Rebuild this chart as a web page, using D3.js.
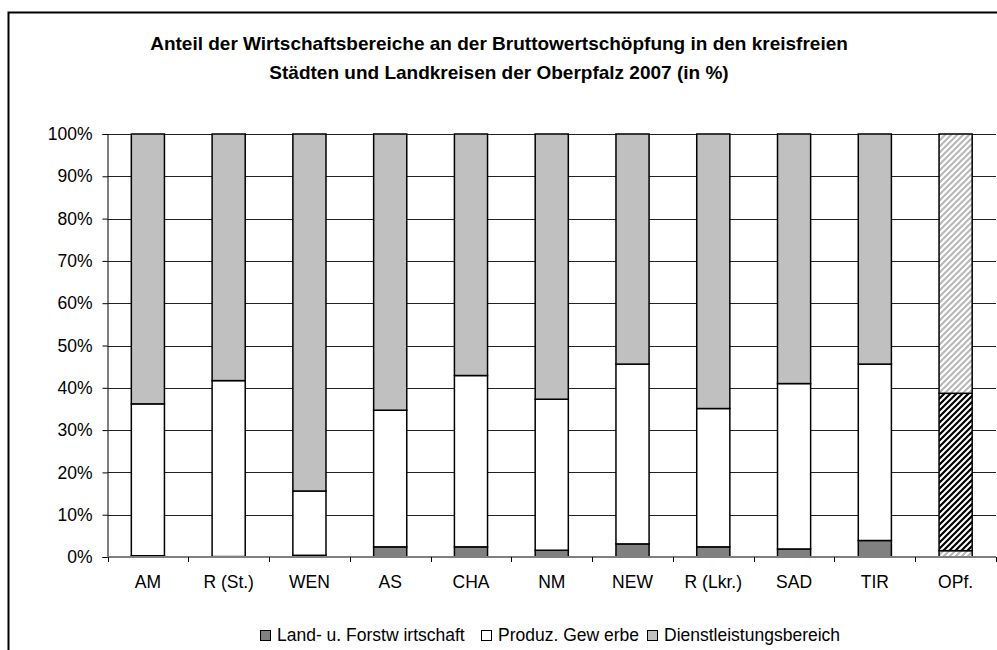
<!DOCTYPE html>
<html>
<head>
<meta charset="utf-8">
<script src="https://cdn.jsdelivr.net/npm/d3@7"></script>
<style>
  body { margin: 0; background: #fff; }
  text { font-family: "Liberation Sans", Arial, sans-serif; }
</style>
</head>
<body>
<div class="vis-stacked"></div>
<script>
// Werte in %
var categories = ["AM", "R (St.)", "WEN", "AS", "CHA", "NM", "NEW", "R (Lkr.)", "SAD", "TIR", "OPf."];
var landForst = [0.3, 0.1, 0.4, 2.4, 2.4, 1.6, 3.1, 2.4, 1.9, 3.9, 1.5];
var produz    = [35.9, 41.6, 15.2, 32.3, 40.5, 35.7, 42.5, 32.7, 39.1, 41.7, 37.2];
var dienst    = [63.8, 58.3, 84.4, 65.3, 57.1, 62.7, 54.4, 64.9, 59.0, 54.4, 61.3];
var seriesNames = ["Land- u. Forstw irtschaft", "Produz. Gew erbe", "Dienstleistungsbereich"];
var yTicks = [0, 0.1, 0.2, 0.3, 0.4, 0.5, 0.6, 0.7, 0.8, 0.9, 1];

var width = 997, height = 650;
var margin = {top: 134, right: 1, bottom: 93, left: 107.5};
var labelSize = "17.5px";

var svg = d3.select('.vis-stacked').append('svg')
    .attr("width", width)
    .attr("height", height);

// hatch patterns for the OPf. bar
var defs = svg.append("defs");
function hatch(id, color, w) {
    var p = defs.append("pattern")
        .attr("id", id)
        .attr("patternUnits", "userSpaceOnUse")
        .attr("width", 6).attr("height", 6);
    p.append("rect").attr("width", 6).attr("height", 6).attr("fill", "#fff");
    p.append("path")
        .attr("d", "M-1,1 l2,-2 M0,6 l6,-6 M5,7 l2,-2")
        .attr("stroke", color)
        .attr("stroke-width", w);
}
hatch("hatchLight", "#b8b8b8", 2);
hatch("hatchDark", "#000", 2.2);

// frame
svg.append("path")
    .attr("d", "M8.5," + height + " V12.5 H" + width)
    .attr("fill", "none")
    .attr("stroke", "#000")
    .attr("stroke-width", 2);

// title
var title = svg.append("text")
    .attr("x", 499)
    .attr("text-anchor", "middle")
    .style("font-weight", "bold")
    .style("font-size", "19px");
title.append("tspan").attr("x", 499).attr("y", 50)
    .text("Anteil der Wirtschaftsbereiche an der Bruttowertschöpfung in den kreisfreien");
title.append("tspan").attr("x", 499).attr("y", 79)
    .text("Städten und Landkreisen der Oberpfalz 2007 (in %)");

var x = d3.scaleBand()
    .domain(categories)
    .range([margin.left, width - margin.right])
    .padding(0);

var y = d3.scaleLinear()
    .domain([0, 1])
    .range([height - margin.bottom, margin.top]);

// gridlines
svg.append("g")
    .selectAll("line")
    .data(yTicks.slice(1))
    .enter()
    .append("line")
    .attr("x1", margin.left)
    .attr("x2", width - margin.right)
    .attr("y1", function(d) { return Math.round(y(d)) + 0.5; })
    .attr("y2", function(d) { return Math.round(y(d)) + 0.5; })
    .attr("stroke", "#222")
    .attr("stroke-width", 1);

// y axis
var yAxis = svg.append("g")
    .attr("transform", "translate(" + margin.left + ",0)")
    .call(d3.axisLeft(y).tickValues(yTicks).tickFormat(d3.format(".0%")).tickSize(5).tickPadding(10));
yAxis.select(".domain").attr("stroke", "#000");
yAxis.selectAll(".tick line").attr("stroke", "#000");
yAxis.selectAll("text")
    .style("font-size", labelSize)
    .style("font-family", "'Liberation Sans', Arial, sans-serif")
    .attr("fill", "#000");

// stacked bars
var table = categories.map(function(c, i) {
    return {cat: c, land: landForst[i] / 100, produz: produz[i] / 100, dienst: dienst[i] / 100};
});
var stack = d3.stack().keys(["land", "produz", "dienst"]);
var stacked = stack(table);

var fills = {land: "#808080", produz: "#ffffff", dienst: "#c0c0c0"};
var hatchFills = {land: "url(#hatchLight)", produz: "url(#hatchDark)", dienst: "url(#hatchLight)"};
var barW = x.bandwidth() * 0.41;

svg.append("g")
    .selectAll("g")
    .data(stacked)
    .enter()
    .append("g")
    .selectAll("rect")
    .data(function(s) { return s.map(function(d) { d.key = s.key; return d; }); })
    .enter()
    .append("rect")
    .attr("x", function(d) { return x(d.data.cat) + (x.bandwidth() - barW) / 2; })
    .attr("width", barW)
    .attr("y", function(d) { return y(d[1]); })
    .attr("height", function(d) { return y(d[0]) - y(d[1]); })
    .attr("fill", function(d) { return d.data.cat === "OPf." ? hatchFills[d.key] : fills[d.key]; })
    .attr("stroke", "#000")
    .attr("stroke-width", 1.5);

// x axis (category boundary ticks)
var x0 = y(0);
svg.append("line")
    .attr("x1", margin.left).attr("x2", width - margin.right)
    .attr("y1", x0).attr("y2", x0)
    .attr("stroke", "#808080")
    .attr("stroke-width", 2);
var bounds = categories.map(function(c) { return x(c); }).concat([x(categories[categories.length - 1]) + x.bandwidth()]);
svg.append("g")
    .selectAll("line")
    .data(bounds)
    .enter()
    .append("line")
    .attr("x1", function(d) { return Math.round(d) + 0.5; })
    .attr("x2", function(d) { return Math.round(d) + 0.5; })
    .attr("y1", x0)
    .attr("y2", x0 + 5)
    .attr("stroke", "#000");
svg.append("g")
    .selectAll("text")
    .data(categories)
    .enter()
    .append("text")
    .attr("x", function(d) { return x(d) + x.bandwidth() / 2; })
    .attr("y", 588)
    .attr("text-anchor", "middle")
    .style("font-size", labelSize)
    .text(function(d) { return d; });

// legend
var legendX = [260, 481, 647];
var legend = svg.append("g");
seriesNames.forEach(function(name, i) {
    var k = ["land", "produz", "dienst"][i];
    legend.append("rect")
        .attr("x", legendX[i] + 0.5).attr("y", 630.5)
        .attr("width", 10).attr("height", 10)
        .attr("fill", fills[k])
        .attr("stroke", "#000");
    legend.append("text")
        .attr("x", legendX[i] + 17)
        .attr("y", 641)
        .style("font-size", labelSize)
        .text(name);
});
</script>
</body>
</html>
